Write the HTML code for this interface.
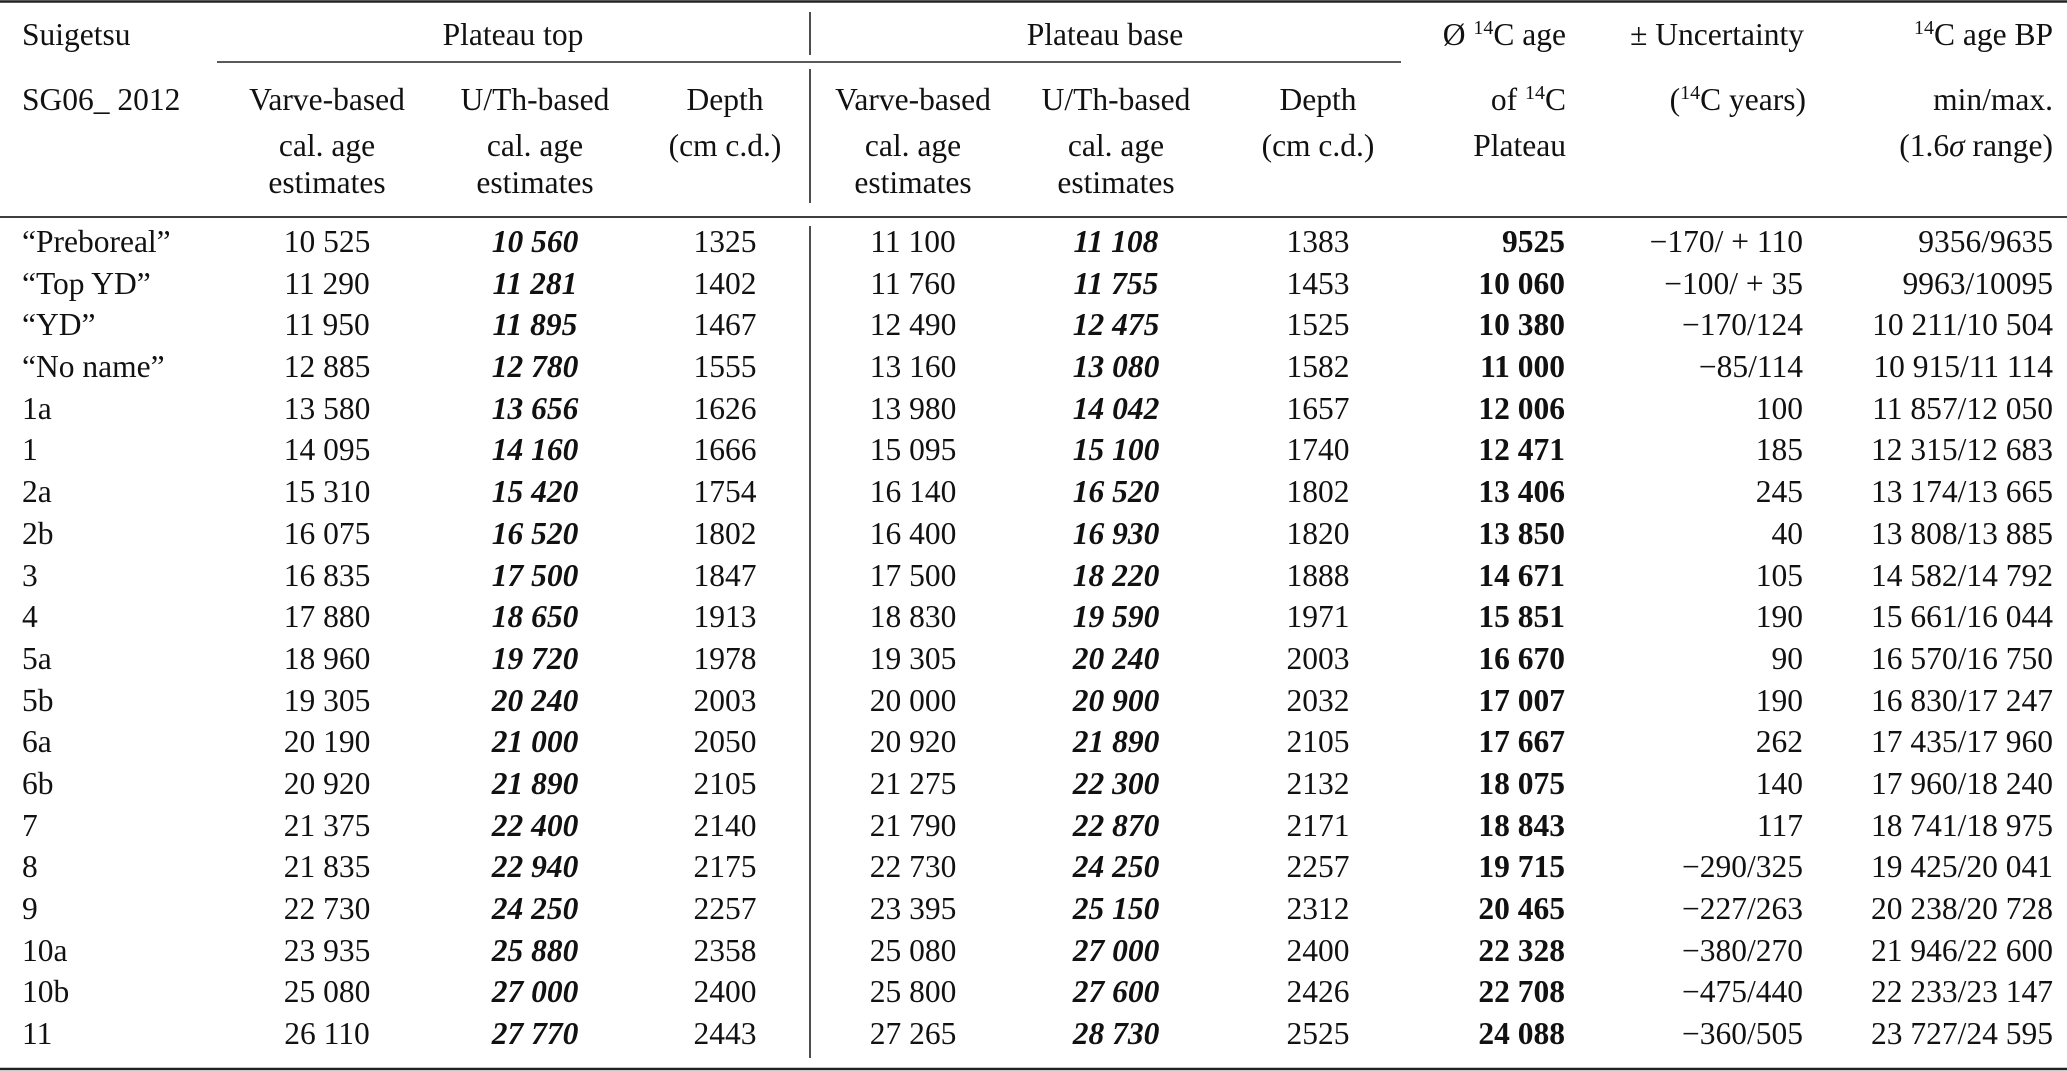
<!DOCTYPE html>
<html><head><meta charset="utf-8"><style>
html,body{margin:0;padding:0;background:#fff;}
svg{display:block;}
text{font-family:"Liberation Serif",serif;font-size:31.5px;fill:#111;}
.c{text-anchor:middle}.r{text-anchor:end}
.bi{font-weight:bold;font-style:italic}.b{font-weight:bold}
</style></head><body>
<svg width="2067" height="1071" viewBox="0 0 2067 1071" xmlns="http://www.w3.org/2000/svg">
<g stroke="#222" fill="none">
<line x1="0" y1="1.5" x2="2067" y2="1.5" stroke-width="2.5"/>
<line x1="217" y1="62" x2="1401" y2="62" stroke-width="1.6"/>
<line x1="0" y1="217" x2="2067" y2="217" stroke-width="1.8"/>
<line x1="0" y1="1069" x2="2067" y2="1069" stroke-width="2.5"/>
<line x1="810" y1="12" x2="810" y2="55" stroke-width="1.6"/>
<line x1="810" y1="69" x2="810" y2="203" stroke-width="1.6"/>
<line x1="810" y1="226" x2="810" y2="1058" stroke-width="1.6"/>
</g>
<text x="22" y="45">Suigetsu</text>
<text class="c" x="513" y="45">Plateau top</text>
<text class="c" x="1105" y="45">Plateau base</text>
<text class="r" x="1566" y="45">Ø <tspan font-size="20" dy="-11">14</tspan><tspan dy="11">C age</tspan></text>
<text class="r" x="1804" y="45">± Uncertainty</text>
<text class="r" x="2053" y="45"><tspan font-size="20" dy="-11">14</tspan><tspan dy="11">C age BP</tspan></text>
<text x="22" y="110">SG06_ 2012</text>
<text class="c" x="327" y="110">Varve-based</text><text class="c" x="327" y="156">cal. age</text><text class="c" x="327" y="193">estimates</text>
<text class="c" x="535" y="110">U/Th-based</text><text class="c" x="535" y="156">cal. age</text><text class="c" x="535" y="193">estimates</text>
<text class="c" x="725" y="110">Depth</text><text class="c" x="725" y="156">(cm c.d.)</text>
<text class="c" x="913" y="110">Varve-based</text><text class="c" x="913" y="156">cal. age</text><text class="c" x="913" y="193">estimates</text>
<text class="c" x="1116" y="110">U/Th-based</text><text class="c" x="1116" y="156">cal. age</text><text class="c" x="1116" y="193">estimates</text>
<text class="c" x="1318" y="110">Depth</text><text class="c" x="1318" y="156">(cm c.d.)</text>
<text class="r" x="1566" y="110">of <tspan font-size="20" dy="-11">14</tspan><tspan dy="11">C</tspan></text>
<text class="r" x="1566" y="156">Plateau</text>
<text class="r" x="1806" y="110">(<tspan font-size="20" dy="-11">14</tspan><tspan dy="11">C years)</tspan></text>
<text class="r" x="2053" y="110">min/max.</text>
<text class="r" x="2053" y="156">(1.6<tspan font-style="italic">σ</tspan> range)</text>

<g>
<text x="22" y="252">“Preboreal”</text><text class="c" x="327" y="252">10 525</text><text class="c bi" x="535" y="252">10 560</text><text class="c" x="725" y="252">1325</text><text class="c" x="913" y="252">11 100</text><text class="c bi" x="1116" y="252">11 108</text><text class="c" x="1318" y="252">1383</text><text class="r b" x="1565" y="252">9525</text><text class="r" x="1803" y="252">−170/ + 110</text><text class="r" x="2053" y="252">9356/9635</text>
<text x="22" y="294">“Top YD”</text><text class="c" x="327" y="294">11 290</text><text class="c bi" x="535" y="294">11 281</text><text class="c" x="725" y="294">1402</text><text class="c" x="913" y="294">11 760</text><text class="c bi" x="1116" y="294">11 755</text><text class="c" x="1318" y="294">1453</text><text class="r b" x="1565" y="294">10 060</text><text class="r" x="1803" y="294">−100/ + 35</text><text class="r" x="2053" y="294">9963/10095</text>
<text x="22" y="335">“YD”</text><text class="c" x="327" y="335">11 950</text><text class="c bi" x="535" y="335">11 895</text><text class="c" x="725" y="335">1467</text><text class="c" x="913" y="335">12 490</text><text class="c bi" x="1116" y="335">12 475</text><text class="c" x="1318" y="335">1525</text><text class="r b" x="1565" y="335">10 380</text><text class="r" x="1803" y="335">−170/124</text><text class="r" x="2053" y="335">10 211/10 504</text>
<text x="22" y="377">“No name”</text><text class="c" x="327" y="377">12 885</text><text class="c bi" x="535" y="377">12 780</text><text class="c" x="725" y="377">1555</text><text class="c" x="913" y="377">13 160</text><text class="c bi" x="1116" y="377">13 080</text><text class="c" x="1318" y="377">1582</text><text class="r b" x="1565" y="377">11 000</text><text class="r" x="1803" y="377">−85/114</text><text class="r" x="2053" y="377">10 915/11 114</text>
<text x="22" y="419">1a</text><text class="c" x="327" y="419">13 580</text><text class="c bi" x="535" y="419">13 656</text><text class="c" x="725" y="419">1626</text><text class="c" x="913" y="419">13 980</text><text class="c bi" x="1116" y="419">14 042</text><text class="c" x="1318" y="419">1657</text><text class="r b" x="1565" y="419">12 006</text><text class="r" x="1803" y="419">100</text><text class="r" x="2053" y="419">11 857/12 050</text>
<text x="22" y="460">1</text><text class="c" x="327" y="460">14 095</text><text class="c bi" x="535" y="460">14 160</text><text class="c" x="725" y="460">1666</text><text class="c" x="913" y="460">15 095</text><text class="c bi" x="1116" y="460">15 100</text><text class="c" x="1318" y="460">1740</text><text class="r b" x="1565" y="460">12 471</text><text class="r" x="1803" y="460">185</text><text class="r" x="2053" y="460">12 315/12 683</text>
<text x="22" y="502">2a</text><text class="c" x="327" y="502">15 310</text><text class="c bi" x="535" y="502">15 420</text><text class="c" x="725" y="502">1754</text><text class="c" x="913" y="502">16 140</text><text class="c bi" x="1116" y="502">16 520</text><text class="c" x="1318" y="502">1802</text><text class="r b" x="1565" y="502">13 406</text><text class="r" x="1803" y="502">245</text><text class="r" x="2053" y="502">13 174/13 665</text>
<text x="22" y="544">2b</text><text class="c" x="327" y="544">16 075</text><text class="c bi" x="535" y="544">16 520</text><text class="c" x="725" y="544">1802</text><text class="c" x="913" y="544">16 400</text><text class="c bi" x="1116" y="544">16 930</text><text class="c" x="1318" y="544">1820</text><text class="r b" x="1565" y="544">13 850</text><text class="r" x="1803" y="544">40</text><text class="r" x="2053" y="544">13 808/13 885</text>
<text x="22" y="586">3</text><text class="c" x="327" y="586">16 835</text><text class="c bi" x="535" y="586">17 500</text><text class="c" x="725" y="586">1847</text><text class="c" x="913" y="586">17 500</text><text class="c bi" x="1116" y="586">18 220</text><text class="c" x="1318" y="586">1888</text><text class="r b" x="1565" y="586">14 671</text><text class="r" x="1803" y="586">105</text><text class="r" x="2053" y="586">14 582/14 792</text>
<text x="22" y="627">4</text><text class="c" x="327" y="627">17 880</text><text class="c bi" x="535" y="627">18 650</text><text class="c" x="725" y="627">1913</text><text class="c" x="913" y="627">18 830</text><text class="c bi" x="1116" y="627">19 590</text><text class="c" x="1318" y="627">1971</text><text class="r b" x="1565" y="627">15 851</text><text class="r" x="1803" y="627">190</text><text class="r" x="2053" y="627">15 661/16 044</text>
<text x="22" y="669">5a</text><text class="c" x="327" y="669">18 960</text><text class="c bi" x="535" y="669">19 720</text><text class="c" x="725" y="669">1978</text><text class="c" x="913" y="669">19 305</text><text class="c bi" x="1116" y="669">20 240</text><text class="c" x="1318" y="669">2003</text><text class="r b" x="1565" y="669">16 670</text><text class="r" x="1803" y="669">90</text><text class="r" x="2053" y="669">16 570/16 750</text>
<text x="22" y="711">5b</text><text class="c" x="327" y="711">19 305</text><text class="c bi" x="535" y="711">20 240</text><text class="c" x="725" y="711">2003</text><text class="c" x="913" y="711">20 000</text><text class="c bi" x="1116" y="711">20 900</text><text class="c" x="1318" y="711">2032</text><text class="r b" x="1565" y="711">17 007</text><text class="r" x="1803" y="711">190</text><text class="r" x="2053" y="711">16 830/17 247</text>
<text x="22" y="752">6a</text><text class="c" x="327" y="752">20 190</text><text class="c bi" x="535" y="752">21 000</text><text class="c" x="725" y="752">2050</text><text class="c" x="913" y="752">20 920</text><text class="c bi" x="1116" y="752">21 890</text><text class="c" x="1318" y="752">2105</text><text class="r b" x="1565" y="752">17 667</text><text class="r" x="1803" y="752">262</text><text class="r" x="2053" y="752">17 435/17 960</text>
<text x="22" y="794">6b</text><text class="c" x="327" y="794">20 920</text><text class="c bi" x="535" y="794">21 890</text><text class="c" x="725" y="794">2105</text><text class="c" x="913" y="794">21 275</text><text class="c bi" x="1116" y="794">22 300</text><text class="c" x="1318" y="794">2132</text><text class="r b" x="1565" y="794">18 075</text><text class="r" x="1803" y="794">140</text><text class="r" x="2053" y="794">17 960/18 240</text>
<text x="22" y="836">7</text><text class="c" x="327" y="836">21 375</text><text class="c bi" x="535" y="836">22 400</text><text class="c" x="725" y="836">2140</text><text class="c" x="913" y="836">21 790</text><text class="c bi" x="1116" y="836">22 870</text><text class="c" x="1318" y="836">2171</text><text class="r b" x="1565" y="836">18 843</text><text class="r" x="1803" y="836">117</text><text class="r" x="2053" y="836">18 741/18 975</text>
<text x="22" y="877">8</text><text class="c" x="327" y="877">21 835</text><text class="c bi" x="535" y="877">22 940</text><text class="c" x="725" y="877">2175</text><text class="c" x="913" y="877">22 730</text><text class="c bi" x="1116" y="877">24 250</text><text class="c" x="1318" y="877">2257</text><text class="r b" x="1565" y="877">19 715</text><text class="r" x="1803" y="877">−290/325</text><text class="r" x="2053" y="877">19 425/20 041</text>
<text x="22" y="919">9</text><text class="c" x="327" y="919">22 730</text><text class="c bi" x="535" y="919">24 250</text><text class="c" x="725" y="919">2257</text><text class="c" x="913" y="919">23 395</text><text class="c bi" x="1116" y="919">25 150</text><text class="c" x="1318" y="919">2312</text><text class="r b" x="1565" y="919">20 465</text><text class="r" x="1803" y="919">−227/263</text><text class="r" x="2053" y="919">20 238/20 728</text>
<text x="22" y="961">10a</text><text class="c" x="327" y="961">23 935</text><text class="c bi" x="535" y="961">25 880</text><text class="c" x="725" y="961">2358</text><text class="c" x="913" y="961">25 080</text><text class="c bi" x="1116" y="961">27 000</text><text class="c" x="1318" y="961">2400</text><text class="r b" x="1565" y="961">22 328</text><text class="r" x="1803" y="961">−380/270</text><text class="r" x="2053" y="961">21 946/22 600</text>
<text x="22" y="1002">10b</text><text class="c" x="327" y="1002">25 080</text><text class="c bi" x="535" y="1002">27 000</text><text class="c" x="725" y="1002">2400</text><text class="c" x="913" y="1002">25 800</text><text class="c bi" x="1116" y="1002">27 600</text><text class="c" x="1318" y="1002">2426</text><text class="r b" x="1565" y="1002">22 708</text><text class="r" x="1803" y="1002">−475/440</text><text class="r" x="2053" y="1002">22 233/23 147</text>
<text x="22" y="1044">11</text><text class="c" x="327" y="1044">26 110</text><text class="c bi" x="535" y="1044">27 770</text><text class="c" x="725" y="1044">2443</text><text class="c" x="913" y="1044">27 265</text><text class="c bi" x="1116" y="1044">28 730</text><text class="c" x="1318" y="1044">2525</text><text class="r b" x="1565" y="1044">24 088</text><text class="r" x="1803" y="1044">−360/505</text><text class="r" x="2053" y="1044">23 727/24 595</text>
</g>
</svg>
</body></html>
